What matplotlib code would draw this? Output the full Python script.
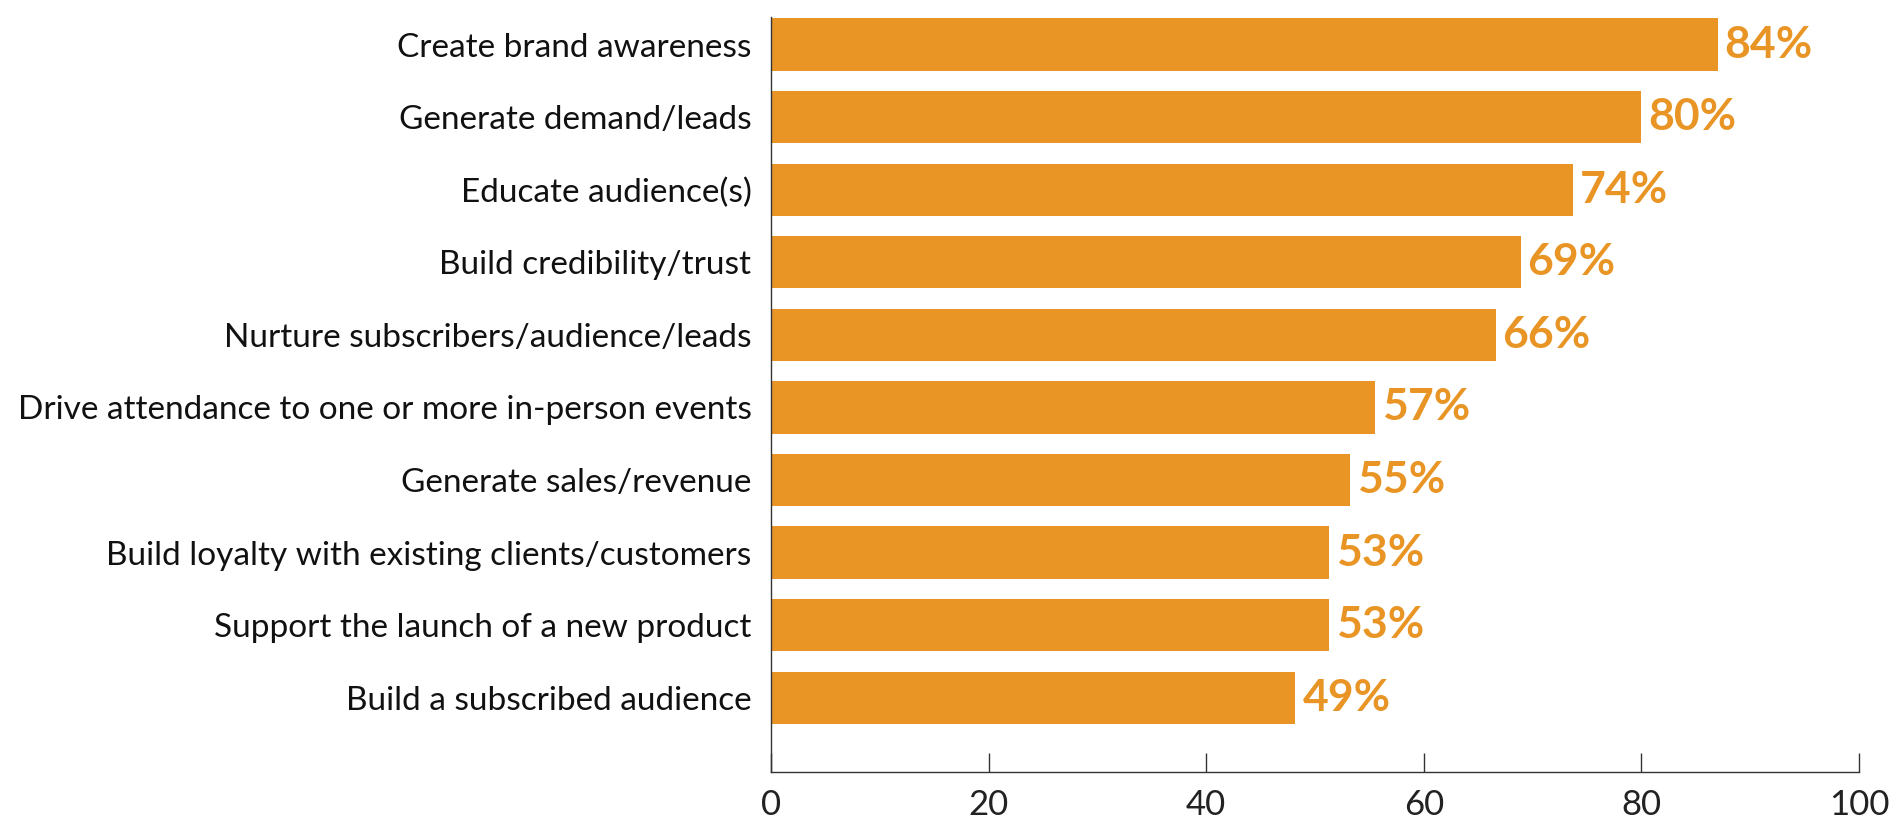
import matplotlib.pyplot as plt

# Data (top to bottom)
categories = [
    'Create brand awareness',
    'Generate demand/leads',
    'Educate audience(s)',
    'Build credibility/trust',
    'Nurture subscribers/audience/leads',
    'Drive attendance to one or more in-person events',
    'Generate sales/revenue',
    'Build loyalty with existing clients/customers',
    'Support the launch of a new product',
    'Build a subscribed audience',
]
bar_values = [87.0, 80.0, 73.7, 68.9, 66.6, 55.5, 53.2, 51.3, 51.3, 48.2]
value_labels = ['84%', '80%', '74%', '69%', '66%', '57%', '55%', '53%', '53%', '49%']
x_ticks = [0, 20, 40, 60, 80, 100]

orange = '#E99526'
plt.rcParams['font.family'] = ['Lato', 'DejaVu Sans']

fig = plt.figure(figsize=(18.97, 8.27), dpi=100)
ax = fig.add_axes([0.4064, 0.0665, 0.5736, 0.9125])

pos = list(range(len(categories)))
ax.barh(pos, bar_values, height=0.72, color=orange)

for i, (v, lab) in enumerate(zip(bar_values, value_labels)):
    ax.annotate(lab, (v, i), xytext=(5, 0), textcoords='offset points',
                va='center', ha='left', color=orange, fontsize=32, fontweight='bold')

ax.set_ylim(len(categories) - 1 + 1.025, -0.375)
ax.set_xlim(0, 100)
ax.set_yticks(pos)
ax.set_yticklabels(categories, fontsize=24, color='#111111')
ax.set_xticks(x_ticks)
ax.set_xticklabels([str(t) for t in x_ticks], fontsize=25, color='#222222')

ax.tick_params(axis='y', length=0, pad=14)
ax.tick_params(axis='x', direction='in', length=14, width=1, color='#333333', pad=12)

for s in ['top', 'right']:
    ax.spines[s].set_visible(False)
for s in ['left', 'bottom']:
    ax.spines[s].set_color('#333333')
    ax.spines[s].set_linewidth(1)

fig.savefig('out.png', dpi=100)
